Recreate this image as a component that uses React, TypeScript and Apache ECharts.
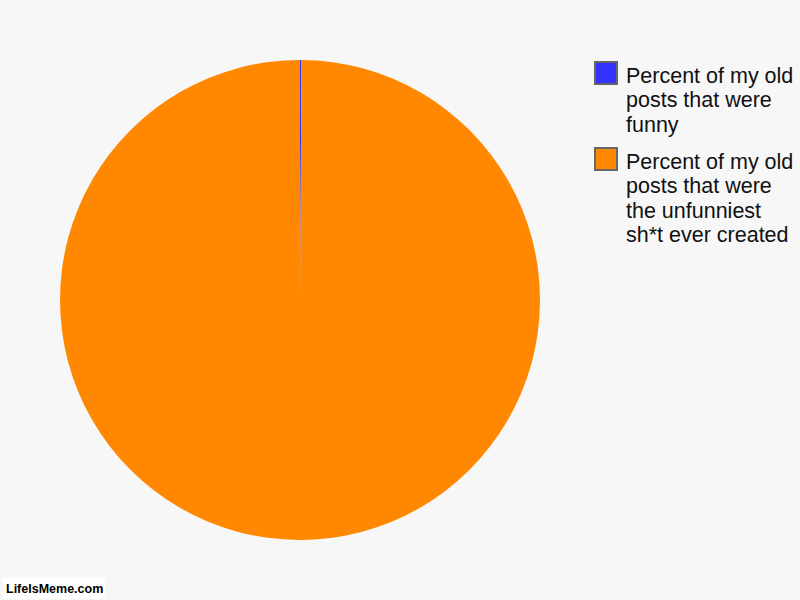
import React, { useEffect, useRef } from "react";
import * as echarts from "echarts";

const categories = [
  "Percent of my old posts that were funny",
  "Percent of my old posts that were the unfunniest sh*t ever created",
];
const legendLines = [
  ["Percent of my old", "posts that were", "funny"],
  ["Percent of my old", "posts that were", "the unfunniest", "sh*t ever created"],
];
const values = [0.1, 99.9];
const colors = ["#3333FF", "#FF8800"];

export default function App() {
  const ref = useRef<HTMLDivElement>(null);
  useEffect(() => {
    if (!ref.current) return;
    const chart = echarts.init(ref.current, undefined, { renderer: "svg" });
    const legendTops = [61, 147];
    const legendGraphics: any[] = [];
    categories.forEach((c, i) => {
      legendGraphics.push({
        type: "rect",
        shape: { x: 595, y: legendTops[i] + 1, width: 22, height: 22 },
        style: { fill: colors[i], stroke: "#666666", lineWidth: 2 },
      });
      legendGraphics.push({
        type: "text",
        x: 626,
        y: legendTops[i] + 2.5,
        style: {
          text: legendLines[i].join("\n"),
          font: "21.5px 'Liberation Sans', Arial, sans-serif",
          lineHeight: 24.5,
          fill: "#111111",
          verticalAlign: "top",
          align: "left",
        },
      });
    });
    chart.setOption({
      animation: false,
      backgroundColor: "#F7F7F7",
      series: [
        {
          type: "pie",
          center: [300, 300],
          radius: [0, 240],
          startAngle: 90,
          clockwise: true,
          label: { show: false },
          labelLine: { show: false },
          emphasis: { disabled: true },
          silent: true,
          itemStyle: { borderWidth: 0 },
          data: categories.map((name, i) => ({
            name,
            value: values[i],
            itemStyle: { color: colors[i] },
          })),
        },
      ],
      graphic: [
        ...legendGraphics,
        {
          type: "rect",
          shape: { x: 3, y: 578, width: 102, height: 21, r: 2 },
          style: { fill: "#FFFFFF" },
        },
        {
          type: "text",
          x: 6,
          y: 589,
          style: {
            text: "LifeIsMeme.com",
            font: "bold 12.5px 'Liberation Sans', sans-serif",
            fill: "#000000",
            verticalAlign: "middle",
            align: "left",
          },
        },
      ],
    });
    return () => chart.dispose();
  }, []);
  return (
    <div
      ref={ref}
      style={{ position: "absolute", left: 0, top: 0, width: 800, height: 600 }}
    />
  );
}
